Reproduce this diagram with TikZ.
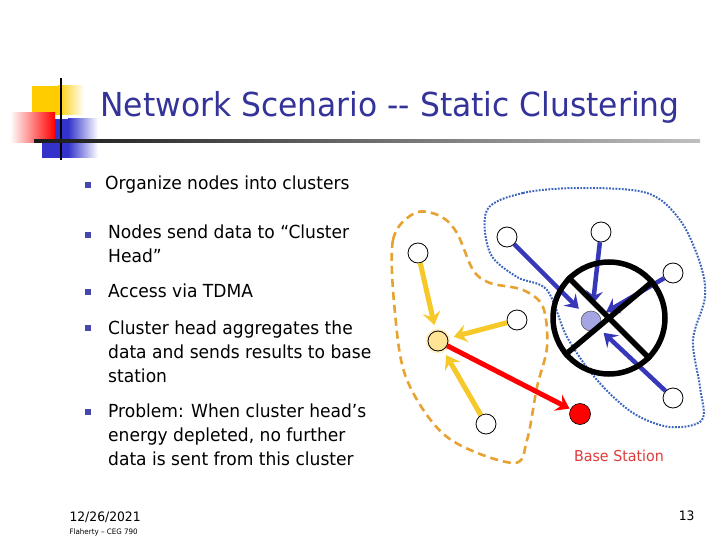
\documentclass[tikz,border=0pt]{standalone}
\usepackage{fontspec}
\setmainfont{DejaVu Sans}[FakeStretch=0.95]
\usetikzlibrary{arrows.meta}
\usetikzlibrary{positioning}
\usetikzlibrary{calc}

\definecolor{titleblue}{RGB}{51,51,153}
\definecolor{bulletblue}{RGB}{70,70,175}
\definecolor{ylw}{RGB}{246,200,40}
\definecolor{chyellow}{RGB}{255,228,150}
\definecolor{chblue}{RGB}{165,165,228}
\definecolor{orng}{RGB}{232,162,50}
\definecolor{dotblue}{RGB}{60,100,190}
\definecolor{arrowblue}{RGB}{55,55,185}
\definecolor{bsred}{RGB}{222,60,60}
\definecolor{decoyellow}{RGB}{255,204,0}
\definecolor{decoblue}{RGB}{51,51,204}

\begin{document}
\begin{tikzpicture}[x=1pt, y=-1pt,
    sensor/.style={circle, draw=black, fill=white, line width=0.8pt, minimum size=20pt, inner sep=0pt},
    bullet/.style={fill=bulletblue, minimum size=6pt, inner sep=0pt},
    item/.style={anchor=north west, align=left, inner sep=0pt, font=\fontsize{18}{24}\selectfont},
    ylwarrow/.style={ylw, line width=5pt, -{Stealth[length=13pt, width=18pt, inset=5pt]}, shorten >=6pt},
    bluearrow/.style={arrowblue, line width=4.5pt, -{Stealth[length=13pt, width=17pt, inset=5pt]}, shorten >=7pt},
    redarrow/.style={red, line width=5pt, -{Stealth[length=13pt, width=18pt, inset=5pt]}, shorten >=1pt}]
  \useasboundingbox[fill=white] (0,0) rectangle (720,540);

  % Title decoration: squares, fading bar and cross lines
  \fill[decoyellow] (32,86) rectangle (58,115);
  \shade[left color=decoyellow, right color=white] (58,86) rectangle (84,115);
  \fill[decoblue] (42,119) rectangle (68,158);
  \shade[left color=decoblue, right color=white] (68,119) rectangle (98,158);
  \shade[left color=white, right color=red] (10,113) rectangle (55,143);
  \draw[black, line width=2.5pt] (61,78) -- (61,160);
  \shade[left color=black!90, right color=black!25] (34,140) rectangle (700,142.5);

  % Title
  \node[anchor=west, text=titleblue, font=\fontsize{33}{40}\selectfont] (title) at (97,107) {Network Scenario {-}{-} Static Clustering};

  % Bullet list
  \foreach \y in {185,235,292,328,412}
    \node[bullet] at (88,\y) {};
  \node[item] (b1) at (105,176) {Organize nodes into clusters};
  \node[item] (b2) at (108,225) {Nodes send data to “Cluster\\Head”};
  \node[item] (b3) at (108,284) {Access via TDMA};
  \node[item] (b4) at (108,321) {Cluster head aggregates the\\data and sends results to base\\station};
  \node[item] (b5) at (108,404) {Problem: When cluster head’s\\energy depleted, no further\\data is sent from this cluster};

  % Cluster borders
  \draw[orng, line width=2.6pt, dash pattern=on 8pt off 5pt] plot[smooth cycle, tension=0.55] coordinates {
    (415,213) (393,240) (395,313) (407,380) (447,437) (513,463) (527,440)
    (537,387) (547,347) (543,307) (523,290) (490,283) (473,270) (457,233) (440,216)};
  \draw[dotblue, line width=2pt, dash pattern=on 1.8pt off 1.4pt] plot[smooth cycle, tension=0.55] coordinates {
    (487,210) (523,193) (580,188) (647,193) (680,220) (700,263) (705,297) (693,340)
    (700,387) (702,420) (670,427) (633,413) (597,380) (567,337) (547,290) (517,277) (490,253)};

  % Left cluster
  \fill[chyellow!55] (438,341) circle (12.5pt);
  \node[sensor, fill=chyellow] (ch) at (438,341) {};
  \node[sensor] (n1) at (418,253) {};
  \node[sensor] (n2) at (517,320) {};
  \node[sensor] (n3) at (486,424) {};
  \node[circle, draw=black, fill=red, line width=0.6pt, minimum size=21pt, inner sep=0pt] (bs) at (580,414) {};

  % Right cluster, its head marked dead
  \node[sensor] (r1) at (507,237) {};
  \node[sensor] (r2) at (601,232) {};
  \node[sensor] (r3) at (673,273) {};
  \node[sensor, draw=black!70, line width=0.5pt, fill=chblue] (rh) at (591,321) {};
  \node[sensor] (r4) at (673,398) {};

  % Arrows to the heads
  \foreach \src in {n1,n2,n3}
    \draw[ylwarrow] (\src) -- (ch);
  \foreach \src in {r1,r2,r3,r4}
    \draw[bluearrow] (\src) -- (rh);
  \draw[redarrow] (ch) -- (bs);

  % Crossed out head
  \node[circle, draw=black, line width=5.5pt, minimum size=112pt, inner sep=0pt] (dead) at (609,318) {};
  \draw[black, line width=5.5pt] (dead.135) -- (dead.-45);
  \draw[black, line width=5.5pt] (dead.220) -- (dead.40);

  \node[text=bsred, font=\fontsize{15}{18}\selectfont] (bslabel) at (619,456) {Base Station};

  % Footer
  \node[anchor=west, font=\fontsize{13}{16}\selectfont] (date) at (66,517) {12/26/2021};
  \node[anchor=west, font=\fontsize{7.5}{9}\selectfont] (author) at (66,532) {Flaherty – CEG 790};
  \node[anchor=east, font=\fontsize{13}{16}\selectfont] (page) at (698,516) {13};
\end{tikzpicture}
\end{document}
